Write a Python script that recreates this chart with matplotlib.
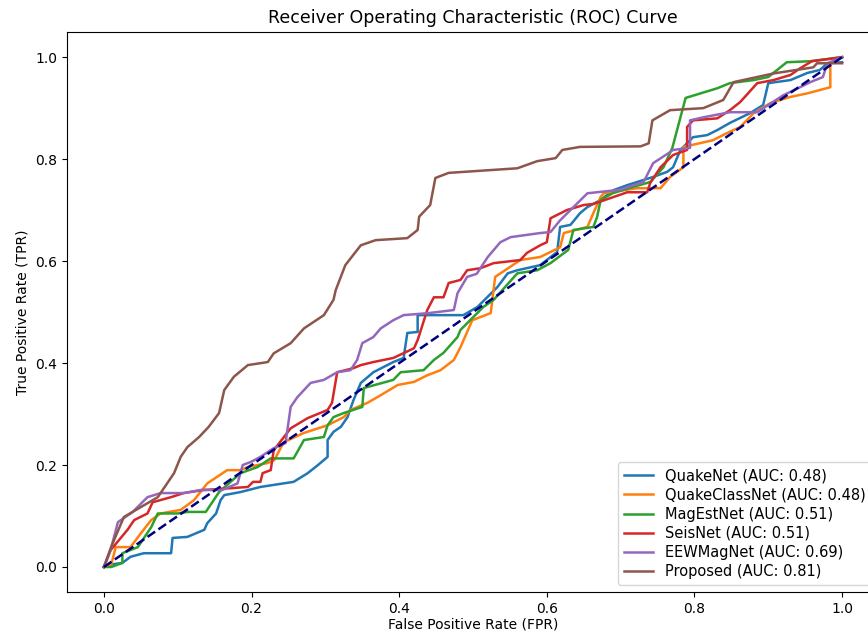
import matplotlib
matplotlib.use("Agg")
import matplotlib.pyplot as plt

# ---------------- data ----------------
quakenet_fpr = [0, 0.01, 0.025, 0.036, 0.054, 0.091, 0.093, 0.113, 0.136, 0.140,
                0.152, 0.158, 0.163, 0.185, 0.212, 0.257, 0.276, 0.290, 0.303, 0.303,
                0.311, 0.321, 0.330, 0.338, 0.348, 0.365, 0.392, 0.406, 0.411, 0.425,
                0.425, 0.487, 0.506, 0.533, 0.547, 0.560, 0.591, 0.614, 0.618, 0.632,
                0.645, 0.655, 0.673, 0.690, 0.709, 0.744, 0.763, 0.771, 0.781, 0.798,
                0.817, 0.831, 0.848, 0.875, 0.893, 0.900, 0.930, 0.953, 0.970, 0.980, 1.0]
quakenet_tpr = [0, 0.005, 0.008, 0.020, 0.027, 0.027, 0.057, 0.059, 0.073, 0.086,
                0.105, 0.131, 0.141, 0.147, 0.157, 0.167, 0.184, 0.200, 0.216, 0.249,
                0.265, 0.275, 0.294, 0.327, 0.361, 0.382, 0.402, 0.410, 0.459, 0.461,
                0.494, 0.494, 0.510, 0.549, 0.576, 0.582, 0.592, 0.618, 0.667, 0.671,
                0.694, 0.706, 0.720, 0.739, 0.749, 0.765, 0.775, 0.784, 0.818, 0.843,
                0.847, 0.857, 0.871, 0.890, 0.906, 0.949, 0.955, 0.969, 0.975, 0.988, 0.990]

quakeclass_fpr = [0, 0.01, 0.016, 0.036, 0.050, 0.064, 0.077, 0.104, 0.122, 0.140,
                  0.167, 0.185, 0.195, 0.222, 0.231, 0.240, 0.244, 0.271, 0.303, 0.325,
                  0.334, 0.357, 0.375, 0.398, 0.420, 0.438, 0.456, 0.474, 0.483, 0.499,
                  0.524, 0.530, 0.564, 0.591, 0.618, 0.623, 0.655, 0.663, 0.673, 0.677,
                  0.722, 0.754, 0.767, 0.785, 0.785, 0.825, 0.844, 0.862, 0.880, 0.903,
                  0.930, 0.953, 0.984, 0.984, 1.0]
quakeclass_tpr = [0, 0.005, 0.039, 0.039, 0.066, 0.092, 0.105, 0.112, 0.131, 0.164,
                  0.190, 0.190, 0.196, 0.204, 0.210, 0.235, 0.245, 0.263, 0.278, 0.294,
                  0.308, 0.322, 0.337, 0.357, 0.363, 0.376, 0.386, 0.406, 0.431, 0.484,
                  0.498, 0.569, 0.602, 0.608, 0.627, 0.655, 0.667, 0.694, 0.726, 0.733,
                  0.743, 0.743, 0.765, 0.784, 0.824, 0.837, 0.851, 0.863, 0.890, 0.910,
                  0.922, 0.929, 0.941, 0.988, 1.0]

magest_fpr = [0, 0.01, 0.025, 0.025, 0.046, 0.064, 0.073, 0.100, 0.113, 0.138,
              0.156, 0.185, 0.208, 0.226, 0.257, 0.271, 0.298, 0.303, 0.311, 0.325,
              0.350, 0.352, 0.392, 0.402, 0.433, 0.447, 0.460, 0.479, 0.483, 0.514,
              0.528, 0.560, 0.587, 0.605, 0.629, 0.636, 0.663, 0.668, 0.673, 0.689,
              0.716, 0.740, 0.758, 0.770, 0.788, 0.831, 0.848, 0.880, 0.900, 0.925,
              0.957, 1.0]
magest_tpr = [0, 0.0, 0.008, 0.027, 0.039, 0.078, 0.105, 0.105, 0.108, 0.108,
              0.147, 0.184, 0.196, 0.213, 0.213, 0.249, 0.255, 0.278, 0.294, 0.302,
              0.314, 0.351, 0.367, 0.382, 0.386, 0.406, 0.420, 0.451, 0.465, 0.510,
              0.524, 0.576, 0.582, 0.596, 0.622, 0.661, 0.667, 0.686, 0.720, 0.733,
              0.745, 0.755, 0.784, 0.822, 0.920, 0.939, 0.949, 0.955, 0.961, 0.990,
              0.992, 1.0]

seisnet_fpr = [0, 0.009, 0.032, 0.041, 0.059, 0.066, 0.091, 0.108, 0.135, 0.176,
               0.195, 0.202, 0.212, 0.215, 0.226, 0.230, 0.253, 0.276, 0.303, 0.309,
               0.316, 0.338, 0.348, 0.365, 0.392, 0.420, 0.425, 0.438, 0.447, 0.460,
               0.467, 0.483, 0.492, 0.510, 0.528, 0.564, 0.573, 0.591, 0.600, 0.605,
               0.627, 0.650, 0.663, 0.709, 0.736, 0.740, 0.754, 0.771, 0.790, 0.790,
               0.798, 0.831, 0.848, 0.862, 0.885, 0.907, 0.930, 0.943, 0.959, 0.980, 1.0]
seisnet_tpr = [0, 0.033, 0.073, 0.092, 0.105, 0.127, 0.137, 0.145, 0.151, 0.155,
               0.157, 0.167, 0.167, 0.184, 0.190, 0.229, 0.272, 0.292, 0.308, 0.322,
               0.382, 0.390, 0.396, 0.402, 0.410, 0.429, 0.445, 0.504, 0.529, 0.529,
               0.557, 0.563, 0.582, 0.586, 0.596, 0.602, 0.616, 0.631, 0.637, 0.684,
               0.700, 0.710, 0.712, 0.735, 0.735, 0.753, 0.784, 0.808, 0.818, 0.863,
               0.876, 0.880, 0.896, 0.912, 0.949, 0.955, 0.965, 0.978, 0.992, 0.996, 1.0]

eewmag_fpr = [0, 0.009, 0.019, 0.026, 0.039, 0.059, 0.077, 0.108, 0.131, 0.160,
              0.181, 0.188, 0.199, 0.212, 0.230, 0.246, 0.253, 0.262, 0.280, 0.298,
              0.316, 0.334, 0.343, 0.350, 0.365, 0.375, 0.392, 0.406, 0.440, 0.474,
              0.479, 0.492, 0.505, 0.520, 0.537, 0.551, 0.591, 0.605, 0.618, 0.632,
              0.655, 0.700, 0.709, 0.731, 0.744, 0.763, 0.771, 0.794, 0.794, 0.812,
              0.848, 0.885, 0.920, 0.943, 0.957, 0.974, 0.980, 1.0]
eewmag_tpr = [0, 0.033, 0.088, 0.095, 0.108, 0.137, 0.145, 0.145, 0.151, 0.151,
              0.164, 0.200, 0.206, 0.216, 0.233, 0.243, 0.314, 0.333, 0.361, 0.367,
              0.382, 0.386, 0.406, 0.439, 0.451, 0.468, 0.484, 0.494, 0.498, 0.504,
              0.537, 0.569, 0.575, 0.608, 0.637, 0.647, 0.655, 0.657, 0.680, 0.700,
              0.733, 0.740, 0.745, 0.755, 0.792, 0.810, 0.818, 0.822, 0.876, 0.882,
              0.892, 0.892, 0.925, 0.941, 0.951, 0.961, 0.988, 1.0]

proposed_fpr = [0, 0.010, 0.027, 0.073, 0.095, 0.104, 0.113, 0.129, 0.142, 0.156,
                0.163, 0.176, 0.195, 0.222, 0.230, 0.253, 0.271, 0.298, 0.311, 0.314,
                0.327, 0.348, 0.368, 0.411, 0.425, 0.427, 0.442, 0.449, 0.467, 0.560,
                0.587, 0.612, 0.621, 0.645, 0.727, 0.738, 0.743, 0.767, 0.812, 0.839,
                0.853, 0.907, 0.961, 0.966, 1.0]
proposed_tpr = [0, 0.040, 0.098, 0.137, 0.184, 0.216, 0.235, 0.255, 0.275, 0.302,
                0.347, 0.373, 0.396, 0.402, 0.419, 0.439, 0.468, 0.494, 0.524, 0.543,
                0.592, 0.631, 0.641, 0.645, 0.661, 0.687, 0.710, 0.763, 0.773, 0.782,
                0.796, 0.802, 0.818, 0.824, 0.825, 0.831, 0.876, 0.896, 0.900, 0.916,
                0.951, 0.968, 0.980, 0.988, 0.988]

model_names = ["QuakeNet", "QuakeClassNet", "MagEstNet", "SeisNet", "EEWMagNet", "Proposed"]
auc_values = [0.48, 0.48, 0.51, 0.51, 0.69, 0.81]
fpr_series = [quakenet_fpr, quakeclass_fpr, magest_fpr, seisnet_fpr, eewmag_fpr, proposed_fpr]
tpr_series = [quakenet_tpr, quakeclass_tpr, magest_tpr, seisnet_tpr, eewmag_tpr, proposed_tpr]
colors = ["#1f77b4", "#ff7f0e", "#2ca02c", "#d62728", "#9467bd", "#8c564b"]

# ---------------- figure ----------------
fig = plt.figure(figsize=(8.68, 6.33), dpi=100)
ax = fig.add_axes([0.0772, 0.064, 0.9355, 0.886])

for name, auc, f, t, c in zip(model_names, auc_values, fpr_series, tpr_series, colors):
    ax.plot(f, t, color=c, lw=1.8, label=f"{name} (AUC: {auc:.2f})")

ax.plot([0, 1], [0, 1], color="navy", lw=1.8, linestyle="--")

ax.set_xlim(-0.05, 1.05)
ax.set_ylim(-0.05, 1.05)
ax.set_xlabel("False Positive Rate (FPR)", fontsize=10, labelpad=1)
ax.set_ylabel("True Positive Rate (TPR)", fontsize=10)
ax.set_title("Receiver Operating Characteristic (ROC) Curve", fontsize=12.5)
ax.tick_params(labelsize=10)
ax.legend(loc="lower right", fontsize=10.5, labelspacing=0.29)

fig.savefig("out.png", dpi=100)
